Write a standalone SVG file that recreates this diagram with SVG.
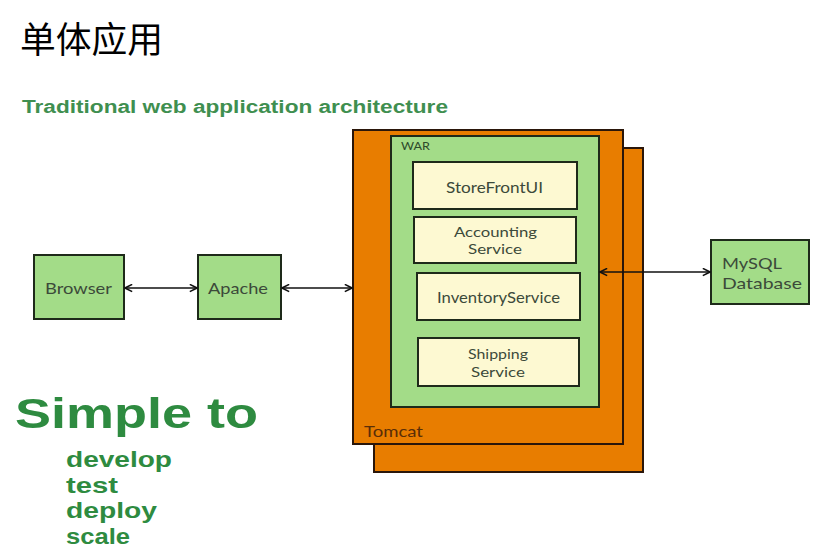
<svg xmlns="http://www.w3.org/2000/svg" width="823" height="560" viewBox="0 0 823 560">
<style>
.tomcat{fill:#e87d00;stroke:#2a160a;stroke-width:2}
.green{fill:#a3dc88;stroke:#1e2a1a;stroke-width:2}
.cream{fill:#fdf9d2;stroke:#1e2a1a;stroke-width:2}
.lbl{font-family:Lato,"Open Sans",sans-serif;font-size:16px;fill:#3c4a3a}
.two{font-size:14px}
.conn{stroke:#111;stroke-width:1.6;fill:none;marker-start:url(#a);marker-end:url(#a)}
.grn{font-family:"Liberation Sans",Arial,sans-serif;font-weight:bold;fill:#2e8b40}
</style>
<defs>
<marker id="a" viewBox="0 0 10 10" refX="9" refY="5" markerWidth="9" markerHeight="9" orient="auto-start-reverse" markerUnits="userSpaceOnUse">
<path d="M1,1 L9,5 L1,9" fill="none" stroke="#111" stroke-width="1.8"/>
</marker>
</defs>
<rect width="823" height="560" fill="#fff"/>
<text x="20" y="53" font-family="'Noto Sans CJK SC',sans-serif" font-size="36" fill="#000" textLength="143" lengthAdjust="spacingAndGlyphs">单体应用</text>
<text x="22" y="113" class="grn" font-size="18" style="fill:#3f8f50" textLength="426" lengthAdjust="spacingAndGlyphs">Traditional web application architecture</text>
<g id="tomcat">
<rect class="tomcat" x="374" y="148" width="269" height="324"/>
<rect class="tomcat" x="353" y="130" width="270" height="314"/>
<text x="364" y="437" class="lbl" style="fill:#5a2e08" textLength="59" lengthAdjust="spacingAndGlyphs">Tomcat</text>
</g>
<g id="war">
<rect class="green" x="391" y="136" width="208" height="271"/>
<text x="401" y="150" font-family="Lato,'Open Sans',sans-serif" font-size="11" fill="#2d4a2a" textLength="29" lengthAdjust="spacingAndGlyphs">WAR</text>
</g>
<g id="storefront"><rect class="cream" x="413" y="162" width="164" height="47"/><text class="lbl" x="446" y="193" textLength="97" lengthAdjust="spacingAndGlyphs">StoreFrontUI</text></g>
<g id="accounting"><rect class="cream" x="414" y="217" width="162" height="46"/><text class="lbl two" x="454" y="237" textLength="83" lengthAdjust="spacingAndGlyphs">Accounting</text><text class="lbl two" x="468" y="254" textLength="54" lengthAdjust="spacingAndGlyphs">Service</text></g>
<g id="inventory"><rect class="cream" x="417" y="273" width="163" height="47"/><text class="lbl" x="437" y="303" textLength="123" lengthAdjust="spacingAndGlyphs">InventoryService</text></g>
<g id="shipping"><rect class="cream" x="418" y="338" width="161" height="48"/><text class="lbl two" x="468" y="359" textLength="60" lengthAdjust="spacingAndGlyphs">Shipping</text><text class="lbl two" x="471" y="377" textLength="54" lengthAdjust="spacingAndGlyphs">Service</text></g>
<g id="browser"><rect class="green" x="34" y="255" width="90" height="64"/><text class="lbl" x="45" y="294" textLength="67" lengthAdjust="spacingAndGlyphs">Browser</text></g>
<g id="apache"><rect class="green" x="198" y="255" width="83" height="64"/><text class="lbl" x="208" y="294" textLength="60" lengthAdjust="spacingAndGlyphs">Apache</text></g>
<g id="mysql"><rect class="green" x="711" y="240" width="98" height="64"/><text class="lbl" x="722" y="269" textLength="60" lengthAdjust="spacingAndGlyphs">MySQL</text><text class="lbl" x="722" y="289" textLength="80" lengthAdjust="spacingAndGlyphs">Database</text></g>
<g id="connectors">
<line class="conn" x1="125" y1="288" x2="197" y2="288"/>
<line class="conn" x1="282" y1="288" x2="352" y2="288"/>
<line class="conn" x1="600" y1="272" x2="710" y2="272"/>
</g>
<text x="15" y="428" class="grn" font-size="43" textLength="243" lengthAdjust="spacingAndGlyphs">Simple to</text>
<text x="66" y="467" class="grn" font-size="22" textLength="106" lengthAdjust="spacingAndGlyphs">develop</text>
<text x="66" y="493" class="grn" font-size="22" textLength="52" lengthAdjust="spacingAndGlyphs">test</text>
<text x="66" y="518" class="grn" font-size="22" textLength="91" lengthAdjust="spacingAndGlyphs">deploy</text>
<text x="66" y="544" class="grn" font-size="22" textLength="64" lengthAdjust="spacingAndGlyphs">scale</text>
</svg>
